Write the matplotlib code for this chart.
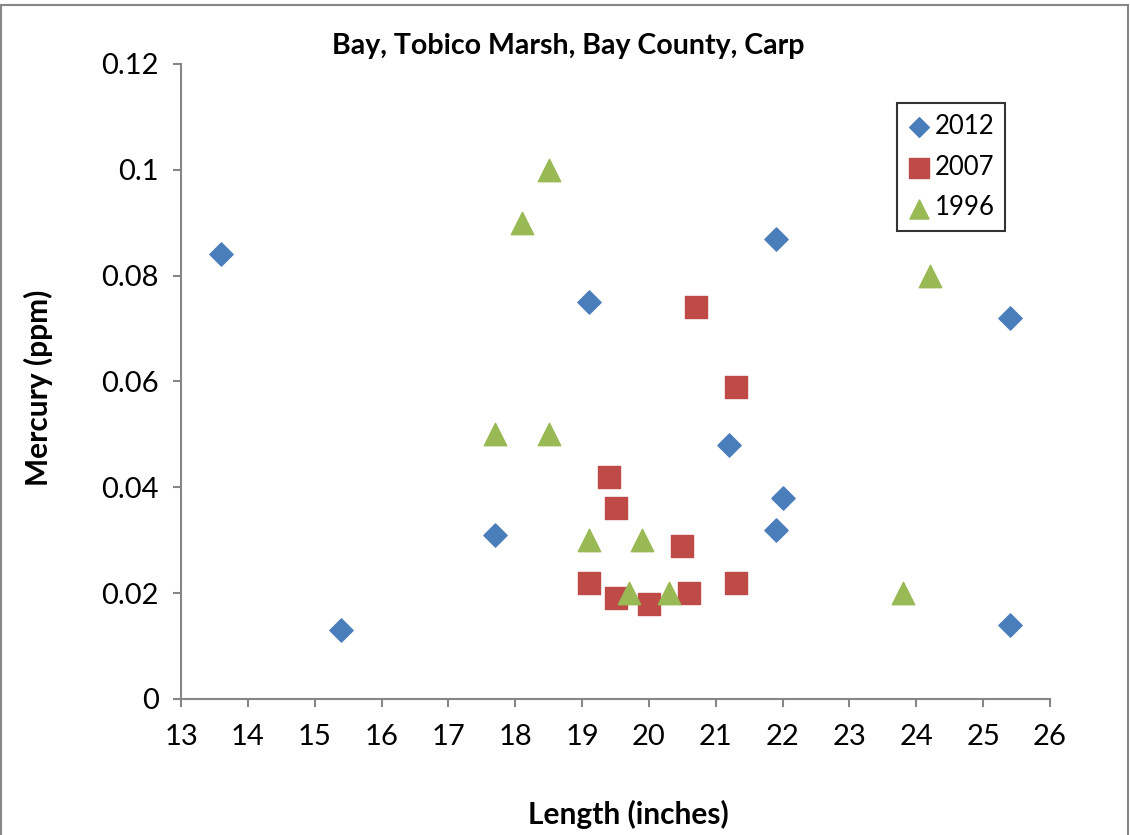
import matplotlib.pyplot as plt
from matplotlib.patches import Rectangle

# 2012 samples
len_2012 = [13.6, 15.4, 17.7, 19.1, 21.2, 21.9, 21.9, 22.0, 25.4, 25.4]
hg_2012 = [0.084, 0.013, 0.031, 0.075, 0.048, 0.087, 0.032, 0.038, 0.072, 0.014]

# 2007 samples
len_2007 = [19.1, 19.4, 19.5, 19.5, 20.0, 20.5, 20.6, 20.7, 21.3, 21.3]
hg_2007 = [0.022, 0.042, 0.036, 0.019, 0.018, 0.029, 0.020, 0.074, 0.059, 0.022]

# 1996 samples
len_1996 = [18.5, 18.1, 17.7, 18.5, 19.1, 19.9, 19.7, 20.3, 24.2, 23.8]
hg_1996 = [0.100, 0.090, 0.050, 0.050, 0.030, 0.030, 0.020, 0.020, 0.080, 0.020]

x_ticks = list(range(13, 27))
y_ticks = [0, 0.02, 0.04, 0.06, 0.08, 0.1, 0.12]
y_labels = ['0', '0.02', '0.04', '0.06', '0.08', '0.1', '0.12']

plt.rcParams['font.family'] = ['Lato', 'DejaVu Sans']
axis_gray = '#868686'

fig = plt.figure(figsize=(11.3, 8.35), dpi=100)
ax = fig.add_axes([0.1602, 0.1629, 0.7690, 0.7605])

ax.scatter(len_2012, hg_2012, marker='D', s=140, color='#4a7ebb', label='2012', zorder=3)
ax.scatter(len_2007, hg_2007, marker='s', s=260, color='#be4b48', label='2007', zorder=3)
ax.scatter(len_1996, hg_1996, marker='^', s=260, color='#98b954', label='1996', zorder=3)

ax.set_xlim(13, 26)
ax.set_ylim(0, 0.12)
ax.set_xticks(x_ticks)
ax.set_yticks(y_ticks)
ax.set_yticklabels(y_labels)

for side in ['top', 'right']:
    ax.spines[side].set_visible(False)
for side in ['left', 'bottom']:
    ax.spines[side].set_color(axis_gray)
    ax.spines[side].set_linewidth(1.5)
ax.tick_params(direction='out', length=6, width=1.5, color=axis_gray, labelsize=21)
ax.tick_params(axis='x', pad=12)
ax.tick_params(axis='y', pad=10)

fig.text(0.503, 0.945, 'Bay, Tobico Marsh, Bay County, Carp', ha='center', va='center',
         fontsize=20.5, fontweight='bold')
fig.text(0.556, 0.025, 'Length (inches)', ha='center', va='center',
         fontsize=21.5, fontweight='bold')
fig.text(0.034, 0.535, 'Mercury (ppm)', ha='center', va='center', rotation=90,
         fontsize=21.5, fontweight='bold')

leg = ax.legend(loc='upper left', bbox_to_anchor=(0.8245, 0.938), fontsize=18.5,
                markerscale=0.85, frameon=True, fancybox=False, borderpad=0.4,
                handletextpad=0.15, labelspacing=0.62, handlelength=0.9, borderaxespad=0)
leg.get_frame().set_edgecolor('black')
leg.get_frame().set_linewidth(1.5)

# outer chart border
fig.patches.append(Rectangle((0.001, -0.01), 0.997, 1.004, transform=fig.transFigure,
                             fill=False, edgecolor=axis_gray, linewidth=1.5))

fig.savefig('out.png', dpi=100)
